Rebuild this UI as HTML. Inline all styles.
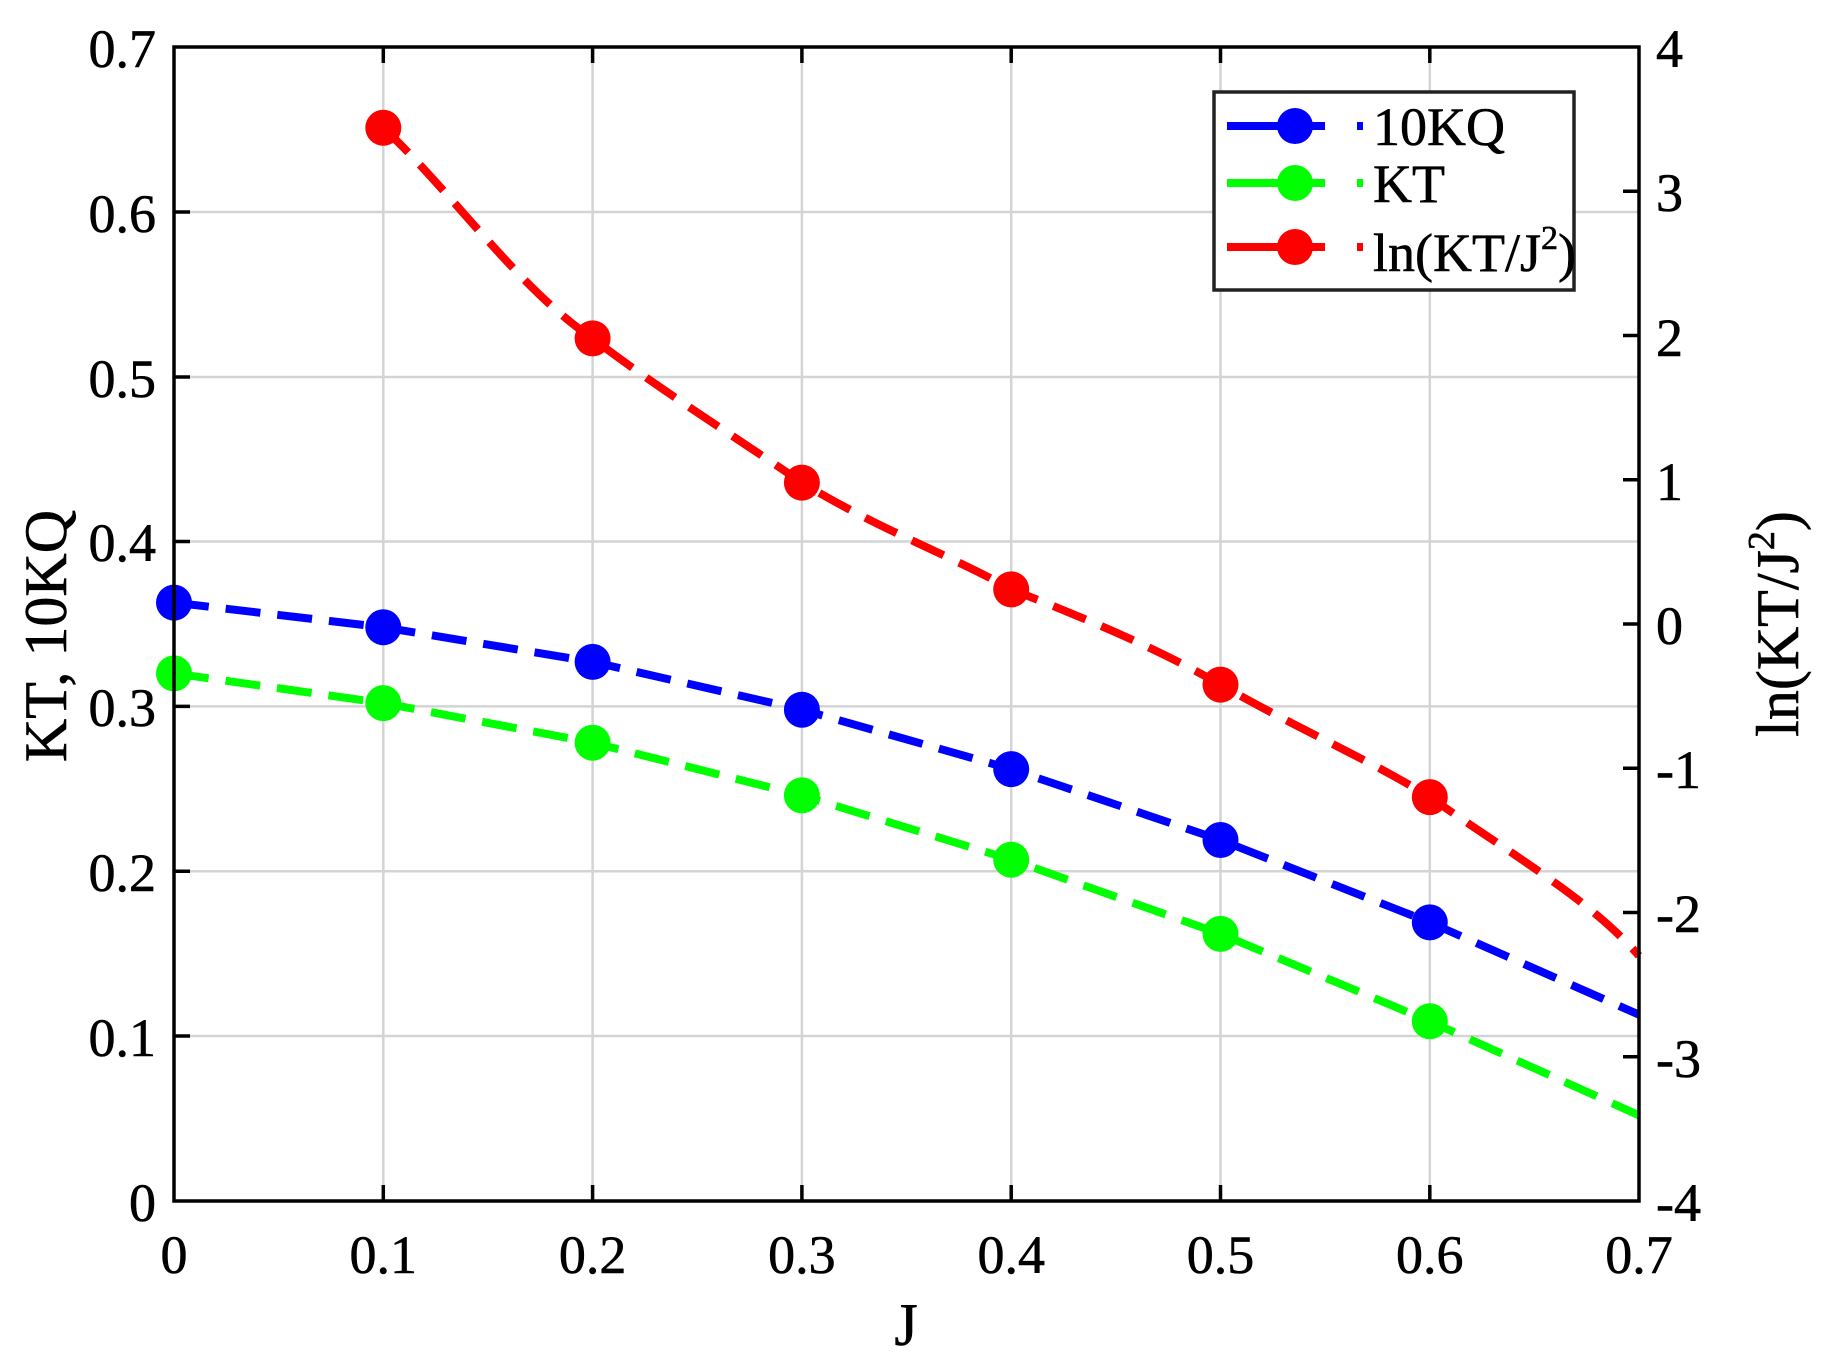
<!DOCTYPE html>
<html><head><meta charset="utf-8"><style>html,body{margin:0;padding:0;background:#fff}</style></head>
<body>
<svg width="1821" height="1366" viewBox="0 0 1821 1366" xmlns="http://www.w3.org/2000/svg" font-family="Liberation Serif, serif">
<rect width="1821" height="1366" fill="#fff"/>
<g stroke="#d4d4d4" stroke-width="2.5">
<line x1="383.3" y1="47" x2="383.3" y2="1201"/><line x1="592.6" y1="47" x2="592.6" y2="1201"/>
<line x1="801.9" y1="47" x2="801.9" y2="1201"/><line x1="1011.2" y1="47" x2="1011.2" y2="1201"/>
<line x1="1220.5" y1="47" x2="1220.5" y2="1201"/><line x1="1429.8" y1="47" x2="1429.8" y2="1201"/>
<line x1="174" y1="212" x2="1639" y2="212"/><line x1="174" y1="377" x2="1639" y2="377"/>
<line x1="174" y1="541.5" x2="1639" y2="541.5"/><line x1="174" y1="706.4" x2="1639" y2="706.4"/>
<line x1="174" y1="871.3" x2="1639" y2="871.3"/><line x1="174" y1="1036" x2="1639" y2="1036"/>
</g>
<g fill="none" stroke-width="8" stroke-dasharray="35 17">
<polyline stroke="#0000ff" points="174,602.6 383.3,627.3 592.6,661.9 801.9,709.7 1011.2,769.1 1220.5,840 1429.8,922.4 1639,1014.7"/>
<polyline stroke="#00ff00" points="174,673.4 383.3,703.1 592.6,742.7 801.9,795.4 1011.2,859.7 1220.5,933.9 1429.8,1021.3 1639,1115.3"/>
<path stroke="#ff0000" d="M383.3,127.8 C450,190 520,290 592.6,338.4 C660,390 740,440 801.9,482.6 C880,530 950,555 1011.2,589.4 C1090,620 1160,650 1220.5,684.6 C1300,730 1370,760 1429.8,797.1 C1520,860 1590,900 1639,955.8"/>
</g>
<g fill="#0000ff"><circle cx="174" cy="602.6" r="18"/><circle cx="383.3" cy="627.3" r="18"/><circle cx="592.6" cy="661.9" r="18"/><circle cx="801.9" cy="709.7" r="18"/><circle cx="1011.2" cy="769.1" r="18"/><circle cx="1220.5" cy="840" r="18"/><circle cx="1429.8" cy="922.4" r="18"/></g>
<g fill="#00ff00"><circle cx="174" cy="673.4" r="18"/><circle cx="383.3" cy="703.1" r="18"/><circle cx="592.6" cy="742.7" r="18"/><circle cx="801.9" cy="795.4" r="18"/><circle cx="1011.2" cy="859.7" r="18"/><circle cx="1220.5" cy="933.9" r="18"/><circle cx="1429.8" cy="1021.3" r="18"/></g>
<g fill="#ff0000"><circle cx="383.3" cy="127.8" r="18"/><circle cx="592.6" cy="338.4" r="18"/><circle cx="801.9" cy="482.6" r="18"/><circle cx="1011.2" cy="589.4" r="18"/><circle cx="1220.5" cy="684.6" r="18"/><circle cx="1429.8" cy="797.1" r="18"/></g>
<rect x="174" y="47" width="1465" height="1154" fill="none" stroke="#000" stroke-width="3.5"/>
<g stroke="#000" stroke-width="3.5">
<path d="M383.3,47v16M592.6,47v16M801.9,47v16M1011.2,47v16M1220.5,47v16M1429.8,47v16"/>
<path d="M383.3,1201v-16M592.6,1201v-16M801.9,1201v-16M1011.2,1201v-16M1220.5,1201v-16M1429.8,1201v-16"/>
<path d="M174,212h16M174,377h16M174,541.5h16M174,706.4h16M174,871.3h16M174,1036h16"/>
<path d="M1639,191.3h-16M1639,335.5h-16M1639,479.8h-16M1639,624h-16M1639,768.3h-16M1639,912.5h-16M1639,1056.8h-16"/>
</g>
<g font-size="54" fill="#000" text-anchor="end" stroke="#000" stroke-width="0.6">
<text x="156" y="67">0.7</text><text x="156" y="232">0.6</text><text x="156" y="397">0.5</text>
<text x="156" y="561">0.4</text><text x="156" y="726">0.3</text><text x="156" y="891">0.2</text>
<text x="156" y="1056">0.1</text><text x="156" y="1221">0</text>
</g>
<g font-size="54" fill="#000" text-anchor="start" stroke="#000" stroke-width="0.6">
<text x="1656" y="67">4</text><text x="1656" y="211">3</text><text x="1656" y="356">2</text>
<text x="1656" y="500">1</text><text x="1656" y="644">0</text><text x="1656" y="788">-1</text>
<text x="1656" y="932">-2</text><text x="1656" y="1077">-3</text><text x="1656" y="1221">-4</text>
</g>
<g font-size="54" fill="#000" text-anchor="middle" stroke="#000" stroke-width="0.6">
<text x="174" y="1273">0</text><text x="383.3" y="1273">0.1</text><text x="592.6" y="1273">0.2</text>
<text x="801.9" y="1273">0.3</text><text x="1011.2" y="1273">0.4</text><text x="1220.5" y="1273">0.5</text>
<text x="1429.8" y="1273">0.6</text><text x="1639" y="1273">0.7</text>
</g>
<g font-size="60" fill="#000" text-anchor="middle" stroke="#000" stroke-width="0.6">
<text x="906" y="1345">J</text>
<text transform="translate(66,636) rotate(-90)">KT, 10KQ</text>
<text transform="translate(1798,624) rotate(-90)">ln(KT/J<tspan font-size="38" dy="-24">2</tspan><tspan dy="24">)</tspan></text>
</g>
<rect x="1214" y="92" width="360" height="198" fill="#fff" stroke="#222" stroke-width="3.5"/>
<g stroke-width="8">
<path d="M1227,126h33M1260,126h65M1357,126h6" stroke="#0000ff"/>
<path d="M1227,183h33M1260,183h65M1357,183h6" stroke="#00ff00"/>
<path d="M1227,247h33M1260,247h65M1357,247h6" stroke="#ff0000"/>
</g>
<circle cx="1295" cy="126" r="18" fill="#0000ff"/><circle cx="1295" cy="183" r="18" fill="#00ff00"/><circle cx="1295" cy="247" r="18" fill="#ff0000"/>
<g font-size="54" fill="#000" stroke="#000" stroke-width="0.6">
<text x="1373" y="145">10KQ</text><text x="1373" y="202">KT</text>
<text x="1373" y="271">ln(KT/J<tspan font-size="34" dy="-22">2</tspan><tspan dy="22">)</tspan></text>
</g>
</svg>
</body></html>
